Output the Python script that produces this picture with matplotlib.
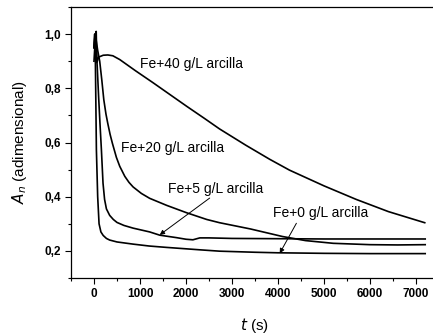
import matplotlib
matplotlib.use('Agg')
import matplotlib.pyplot as plt
from matplotlib.ticker import MultipleLocator, FuncFormatter

plt.rcParams['font.family'] = ['Liberation Sans', 'DejaVu Sans']

# Fe + 40 g/L arcilla
t40 = [0, 30, 48, 62, 100, 200, 300, 410, 560, 900, 1280, 1650, 2020, 2400,
       2730, 3300, 3820, 4250, 5000, 5700, 6400, 7190]
A40 = [0.90, 0.99, 1.01, 0.895, 0.915, 0.922, 0.923, 0.92, 0.906, 0.865, 0.821,
       0.777, 0.733, 0.689, 0.650, 0.590, 0.538, 0.498, 0.44, 0.39, 0.345, 0.304]

# Fe + 20 g/L arcilla
t20 = [0, 25, 45, 80, 124, 170, 213, 260, 300, 350, 400, 487, 560, 670, 760,
       850, 1030, 1210, 1580, 2010, 2450, 2730, 3400, 4100, 4600, 5200, 6000,
       6600, 7200]
A20 = [0.95, 1.0, 0.98, 0.94, 0.90, 0.83, 0.758, 0.705, 0.67, 0.63, 0.597,
       0.545, 0.512, 0.475, 0.453, 0.436, 0.412, 0.394, 0.368, 0.341, 0.316,
       0.304, 0.281, 0.253, 0.238, 0.228, 0.223, 0.222, 0.223]

# Fe + 5 g/L arcilla
t5 = [0, 20, 40, 70, 100, 130, 161, 196, 230, 270, 341, 420, 500, 650, 850,
      1210, 1430, 1790, 2000, 2150, 2300, 2500, 3000, 4000, 5000, 6000, 7200]
A5 = [0.95, 1.0, 0.97, 0.88, 0.77, 0.67, 0.573, 0.45, 0.39, 0.355, 0.331,
      0.316, 0.305, 0.294, 0.284, 0.27, 0.258, 0.249, 0.243, 0.241, 0.248,
      0.248, 0.246, 0.245, 0.244, 0.244, 0.244]

# Fe + 0 g/L arcilla
t0 = [0, 15, 30, 52, 80, 110, 150, 200, 270, 341, 500, 850, 1200, 1570, 2300,
      2730, 3500, 4000, 5000, 6000, 7200]
A0 = [0.95, 1.0, 0.9, 0.573, 0.40, 0.30, 0.27, 0.257, 0.246, 0.240, 0.233, 0.225,
      0.218, 0.213, 0.204, 0.199, 0.195, 0.193, 0.191, 0.19, 0.19]

fig = plt.figure(figsize=(4.33, 3.36), dpi=100)
ax = fig.add_axes([71 / 433, 58 / 336, 368 / 433, 271 / 336])

for t, a in [(t40, A40), (t20, A20), (t5, A5), (t0, A0)]:
    ax.plot(t, a, color='black', lw=1.2, solid_joinstyle='round')

ax.set_xlim(-500, 7500)
ax.set_ylim(0.1, 1.1)

ax.xaxis.set_major_locator(MultipleLocator(1000))
ax.xaxis.set_minor_locator(MultipleLocator(500))
ax.yaxis.set_major_locator(MultipleLocator(0.2))
ax.yaxis.set_minor_locator(MultipleLocator(0.1))
ax.yaxis.set_major_formatter(FuncFormatter(lambda v, p: f"{v:.1f}".replace('.', ',')))
ax.tick_params(which='major', direction='out', length=4, width=0.8, labelsize=8.5, pad=3)
ax.tick_params(which='minor', direction='out', length=2.5, width=0.8)
for lab in ax.get_xticklabels() + ax.get_yticklabels():
    lab.set_fontweight('bold')
for s in ax.spines.values():
    s.set_linewidth(0.9)

ax.set_xlabel(r'$\it{t}$ (s)', fontsize=11, labelpad=12)
ax.set_ylabel(r'$A_n$ (adimensional)', fontsize=11, labelpad=11)

fs = 10
ax.text(993, 0.888, 'Fe+40 g/L arcilla', fontsize=fs, va='center')
ax.text(596, 0.58, 'Fe+20 g/L arcilla', fontsize=fs, va='center')
ax.text(1609, 0.428, 'Fe+5 g/L arcilla', fontsize=fs, va='center')
ax.text(3891, 0.339, 'Fe+0 g/L arcilla', fontsize=fs, va='center')

arrow = dict(arrowstyle='-|>', color='black', lw=0.7, mutation_scale=7,
             shrinkA=0, shrinkB=0)
ax.annotate('', xy=(1428, 0.259), xytext=(2515, 0.395), arrowprops=arrow)
ax.annotate('', xy=(4037, 0.191), xytext=(4400, 0.302), arrowprops=arrow)

fig.savefig('out.png', dpi=100)
